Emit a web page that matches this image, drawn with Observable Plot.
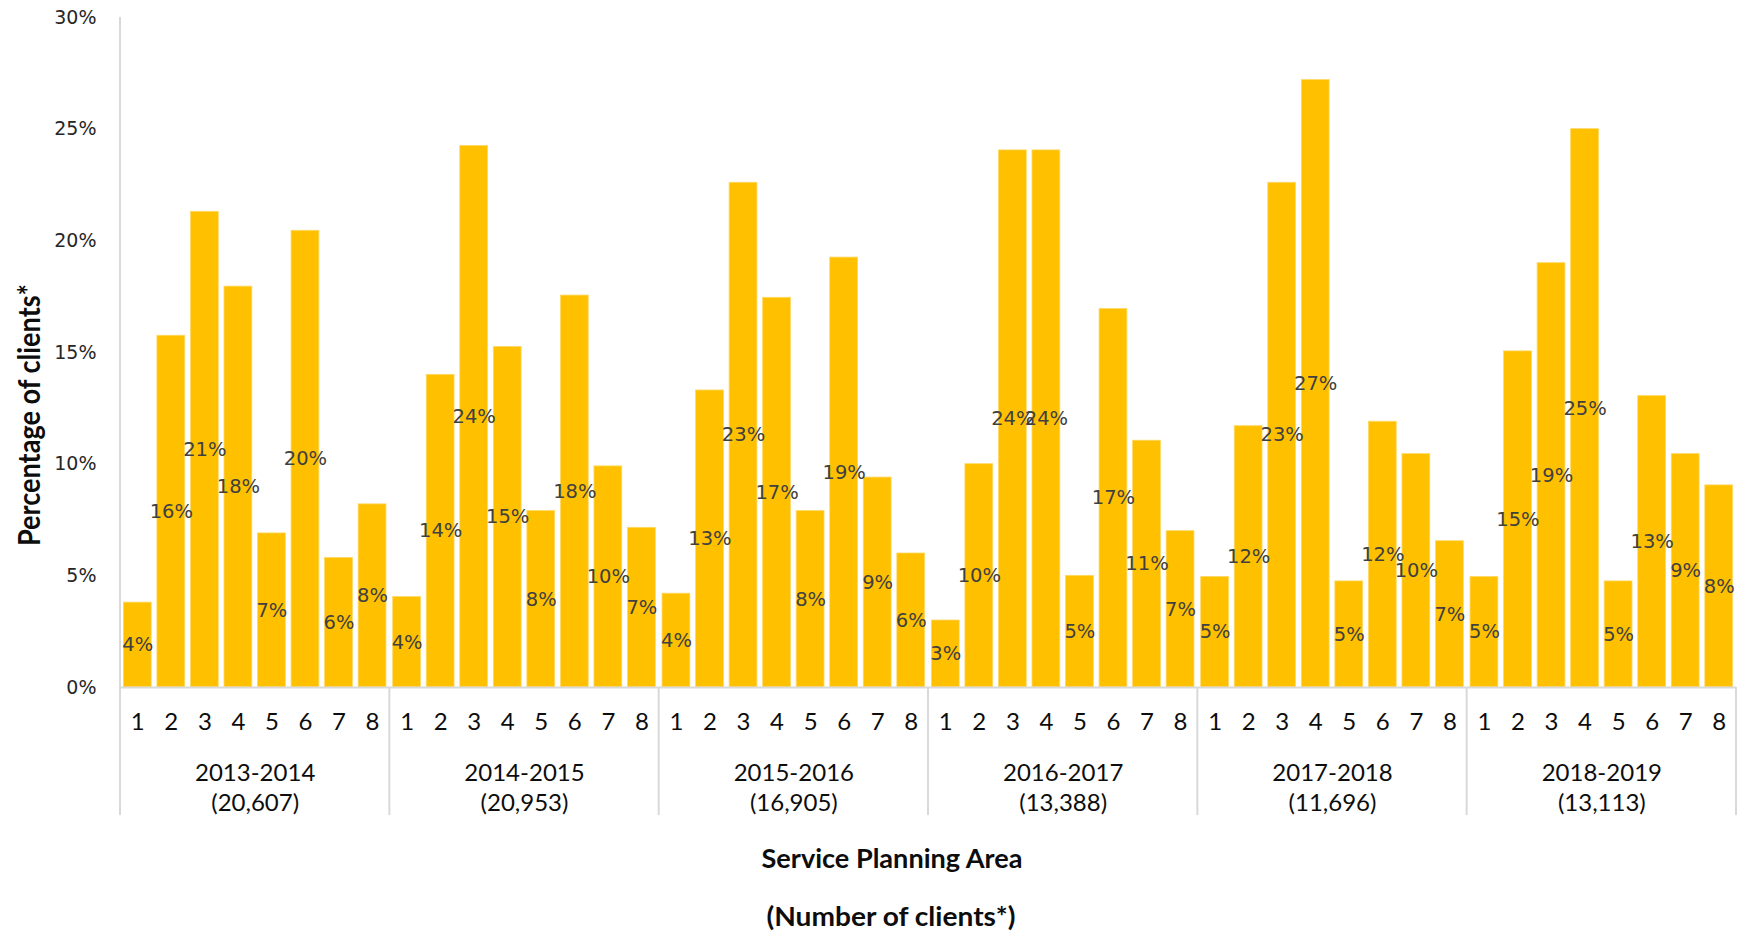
<!DOCTYPE html>
<html><head><meta charset="utf-8">
<script src="https://cdn.jsdelivr.net/npm/d3@7"></script>
<script src="https://cdn.jsdelivr.net/npm/@observablehq/plot@0.6"></script>
<style>
html,body{margin:0;padding:0;background:#fff;}
#chart{width:1738px;height:934px;overflow:hidden;}
</style></head><body><div id="chart"></div>
<script>
// ---- data ----
const years = ["2013-2014", "2014-2015", "2015-2016", "2016-2017", "2017-2018", "2018-2019"];
const clients = [20607, 20953, 16905, 13388, 11696, 13113];
const spas = [1, 2, 3, 4, 5, 6, 7, 8];
const yTicks = [0, 5, 10, 15, 20, 25, 30];

const pct2013 = [3.8, 15.75, 21.3, 17.95, 6.9, 20.45, 5.8, 8.2];
const pct2014 = [4.05, 14.0, 24.25, 15.25, 7.9, 17.55, 9.9, 7.15];
const pct2015 = [4.2, 13.3, 22.6, 17.45, 7.9, 19.25, 9.4, 6.0];
const pct2016 = [3.0, 10.0, 24.05, 24.05, 5.0, 16.95, 11.05, 7.0];
const pct2017 = [4.95, 11.7, 22.6, 27.2, 4.75, 11.9, 10.45, 6.55];
const pct2018 = [4.95, 15.05, 19.0, 25.0, 4.75, 13.05, 10.45, 9.05];

const lbl2013 = [4, 16, 21, 18, 7, 20, 6, 8];
const lbl2014 = [4, 14, 24, 15, 8, 18, 10, 7];
const lbl2015 = [4, 13, 23, 17, 8, 19, 9, 6];
const lbl2016 = [3, 10, 24, 24, 5, 17, 11, 7];
const lbl2017 = [5, 12, 23, 27, 5, 12, 10, 7];
const lbl2018 = [5, 15, 19, 25, 5, 13, 9, 8];

const pcts = [pct2013, pct2014, pct2015, pct2016, pct2017, pct2018];
const lbls = [lbl2013, lbl2014, lbl2015, lbl2016, lbl2017, lbl2018];
const data = years.flatMap((year, i) => spas.map((spa, j) => ({year, spa, value: pcts[i][j], label: lbls[i][j]})));

// ---- layout / style ----
const W = 1738, H = 934, ML = 120, MR = 2, MT = 17, BASE = 687;
const CAL = "Lato, 'Open Sans', sans-serif";
const VER = "'DejaVu Sans', Verdana, sans-serif";
const fmt = d3.format(",");

const chart = Plot.plot({
  width: W, height: H,
  marginLeft: ML, marginRight: MR, marginTop: MT, marginBottom: H - BASE,
  style: {background: "#fff", fontFamily: VER},
  fx: {domain: years, padding: 0, round: false},
  x: {domain: spas, paddingInner: 0.17, paddingOuter: 0.1, round: false},
  y: {domain: [0, 30]},
  marks: [
    Plot.barY(data, {fx: "year", x: "spa", y: "value", fill: "#FFC000", stroke: "#FFD966", strokeWidth: 0.8}),
    Plot.ruleY([0], {stroke: "#d9d9d9", strokeWidth: 2}),
    Plot.text(data, {fx: "year", x: "spa", y: d => d.value / 2, text: d => d.label + "%",
      fill: "#404040", fontSize: 19.5, fontFamily: VER}),
    Plot.axisY(yTicks, {tickFormat: d => d + "%", tickSize: 0, tickPadding: 24, fontSize: 19,
      fontFamily: VER, fill: "#262626", label: null}),
    Plot.axisX({tickSize: 0, tickPadding: 25, fontSize: 24, fontFamily: CAL, fill: "#0d0d0d", label: null}),
    Plot.axisFx({anchor: "bottom", tickSize: 0, tickPadding: 72, fontSize: 24, lineHeight: 1.25,
      fontFamily: CAL, fill: "#0d0d0d", label: null,
      tickFormat: y => `${y}\n(${fmt(clients[years.indexOf(y)])})`})
  ]
});
document.getElementById("chart").appendChild(chart);

// ---- axis lines, separators and titles ----
const svg = d3.select(chart);
const fx = chart.scale("fx"), sy = chart.scale("y");
const y0 = sy.apply(0), yTop = sy.apply(30), yBottom = y0 + 128;
const edges = years.map(v => fx.apply(v)).concat([fx.apply(years[years.length - 1]) + fx.bandwidth]);
svg.append("g").selectAll("line").data(edges).join("line")
  .attr("x1", d => d).attr("x2", d => d)
  .attr("y1", (d, i) => i === 0 ? yTop : y0).attr("y2", yBottom)
  .attr("stroke", "#d9d9d9").attr("stroke-width", 2);

const titles = svg.append("g").attr("font-family", CAL).attr("font-weight", "bold")
  .attr("fill", "#0d0d0d").attr("text-anchor", "middle");
titles.append("text").attr("transform", `translate(29,415) rotate(-90)`).attr("dy", "0.35em")
  .attr("font-size", 30).attr("textLength", 262).attr("lengthAdjust", "spacingAndGlyphs")
  .text("Percentage of clients*");
titles.append("text").attr("x", 892).attr("y", 859).attr("dy", "0.35em")
  .attr("font-size", 26.5).attr("textLength", 261).attr("lengthAdjust", "spacingAndGlyphs")
  .text("Service Planning Area");
titles.append("text").attr("x", 891).attr("y", 917).attr("dy", "0.35em")
  .attr("font-size", 26.5).attr("textLength", 249).attr("lengthAdjust", "spacingAndGlyphs")
  .text("(Number of clients*)");
</script>
</body></html>
